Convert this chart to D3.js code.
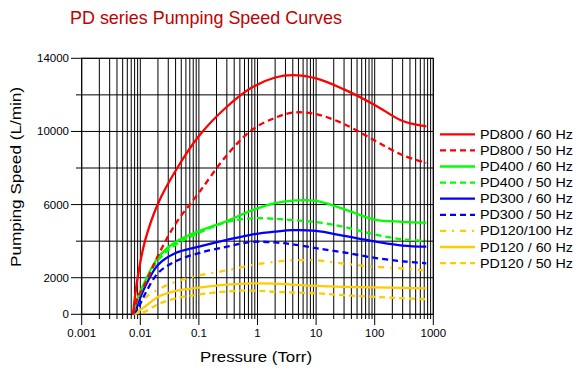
<!DOCTYPE html>
<html><head><meta charset="utf-8">
<script src="https://cdn.jsdelivr.net/npm/d3@7/dist/d3.min.js"></script>
<style>body{margin:0;background:#fff;}svg{display:block;font-family:"Liberation Sans",Arial,sans-serif;}</style>
</head><body><svg id="c" width="587" height="373"></svg>
<script>
const title = "PD series Pumping Speed Curves";
const xLabel = "Pressure (Torr)";
const yLabel = "Pumping Speed (L/min)";
const pressures = [0.0075, 0.009, 0.012, 0.02, 0.04, 0.1, 0.3, 0.8, 2, 4, 10, 30, 100, 300, 760];
const pd800_60 = [0, 2000, 4000, 6050, 7850, 9750, 11350, 12400, 12950, 13080, 12900, 12300, 11450, 10570, 10280];
const pd800_50 = [0, 900, 1650, 3200, 4950, 6650, 8700, 10080, 10750, 11030, 10950, 10400, 9500, 8700, 8280];
const pd400_60 = [0, 900, 1800, 3100, 3950, 4550, 5100, 5680, 6080, 6220, 6200, 5750, 5180, 5060, 5010];
const pd400_50 = [0, 800, 1700, 2950, 3800, 4450, 5050, 5250, 5220, 5150, 5050, 4780, 4370, 4100, 4010];
const pd300_60 = [0, 550, 1500, 2700, 3350, 3700, 4070, 4360, 4520, 4600, 4560, 4290, 3990, 3760, 3700];
const pd300_50 = [0, 300, 1100, 2250, 2900, 3350, 3700, 3960, 3930, 3830, 3615, 3380, 3090, 2900, 2790];
const pd120_100 = [0, 400, 900, 1350, 1780, 2120, 2400, 2690, 2870, 2950, 2950, 2770, 2600, 2505, 2390];
const pd120_60 = [0, 150, 420, 950, 1280, 1460, 1620, 1690, 1680, 1620, 1550, 1500, 1470, 1440, 1420];
const pd120_50 = [0, 60, 150, 550, 870, 1080, 1250, 1300, 1227, 1193, 1150, 1047, 950, 880, 820];
const seriesNames = ["PD800 / 60 Hz","PD800 / 50 Hz","PD400 / 60 Hz","PD400 / 50 Hz","PD300 / 60 Hz","PD300 / 50 Hz","PD120/100 Hz","PD120 / 60 Hz","PD120 / 50 Hz"];
const seriesValues = [pd800_60, pd800_50, pd400_60, pd400_50, pd300_60, pd300_50, pd120_100, pd120_60, pd120_50];
const seriesColors = ["#ff0000","#ff0000","#00ff00","#00ff00","#0000ff","#0000ff","#ffcc00","#ffcc00","#ffcc00"];
const seriesDash = [null,"6,4",null,"6,4",null,"6,4","6,6,2,6",null,"6,4"];
const xTicks = [0.001, 0.01, 0.1, 1, 10, 100, 1000];
const xTickLabels = ["0.001","0.01","0.1","1","10","100","1000"];
const yGrid = [0, 2000, 4000, 6000, 8000, 10000, 12000, 14000];
const yTickLabels = [0, 2000, 6000, 10000, 14000];

const svg = d3.select("#c");
const x = d3.scaleLog().domain([0.001, 1000]).range([81.7, 433.3]);
const y = d3.scaleLinear().domain([0, 14000]).range([314.3, 58.3]);

const minor = [];
for (let e = -3; e < 3; e++) for (let m = 1; m <= 9; m++) minor.push(m * Math.pow(10, e));
minor.push(1000);

const g = svg.append("g");
g.selectAll("line.vg").data(minor).enter().append("line")
  .attr("x1", d => x(d)).attr("x2", d => x(d))
  .attr("y1", y(14000)).attr("y2", d => xTicks.some(t => Math.abs(t - d) / d < 1e-9) ? 325 : 319)
  .attr("stroke", "#000").attr("stroke-width", 1);
g.selectAll("line.hg").data(yGrid).enter().append("line")
  .attr("x1", d => yTickLabels.includes(d) ? 71 : 76).attr("x2", x(1000))
  .attr("y1", d => y(d)).attr("y2", d => y(d))
  .attr("stroke", "#000").attr("stroke-width", 1);
g.append("rect").attr("x", x(0.001)).attr("y", y(14000))
  .attr("width", x(1000) - x(0.001)).attr("height", y(0) - y(14000))
  .attr("fill", "none").attr("stroke", "#000").attr("stroke-width", 1);

svg.selectAll("text.xt").data(xTicks).enter().append("text")
  .attr("x", d => x(d)).attr("y", 337).attr("text-anchor", "middle")
  .attr("font-size", 11.5).text((d, i) => xTickLabels[i]);
svg.selectAll("text.yt").data(yTickLabels).enter().append("text")
  .attr("x", 69).attr("y", d => y(d) + 4).attr("text-anchor", "end")
  .attr("font-size", 11.5).text(d => d);

const line = d3.line().x(d => x(d[0])).y(d => y(d[1])).curve(d3.curveCatmullRom.alpha(0.5));
const order = [8, 7, 6, 5, 4, 3, 2, 1, 0];
order.forEach(i => {
  const pts = pressures.map((p, k) => [p, seriesValues[i][k]]);
  svg.append("path").attr("d", line(pts)).attr("fill", "none")
    .attr("stroke", seriesColors[i]).attr("stroke-width", 2.3)
    .attr("stroke-dasharray", seriesDash[i]);
});

seriesNames.forEach((n, i) => {
  const yy = 134.3 + i * 16.1;
  svg.append("line").attr("x1", 440).attr("x2", 475).attr("y1", yy).attr("y2", yy)
    .attr("stroke", seriesColors[i]).attr("stroke-width", 2.3).attr("stroke-dasharray", seriesDash[i]);
  svg.append("text").attr("x", 480).attr("y", yy + 4.5).attr("font-size", 12.5)
    .attr("textLength", 93).attr("lengthAdjust", "spacingAndGlyphs").text(n);
});

svg.append("text").attr("x", 206).attr("y", 24).attr("text-anchor", "middle")
  .attr("font-size", 19).attr("fill", "#c00000")
  .attr("textLength", 272).attr("lengthAdjust", "spacingAndGlyphs").text(title);
svg.append("text").attr("x", 256).attr("y", 362).attr("text-anchor", "middle")
  .attr("font-size", 15.5).attr("textLength", 112).attr("lengthAdjust", "spacingAndGlyphs").text(xLabel);
svg.append("text").attr("transform", "translate(21,177) rotate(-90)").attr("text-anchor", "middle")
  .attr("font-size", 15.5).attr("textLength", 180).attr("lengthAdjust", "spacingAndGlyphs").text(yLabel);
</script></body></html>
